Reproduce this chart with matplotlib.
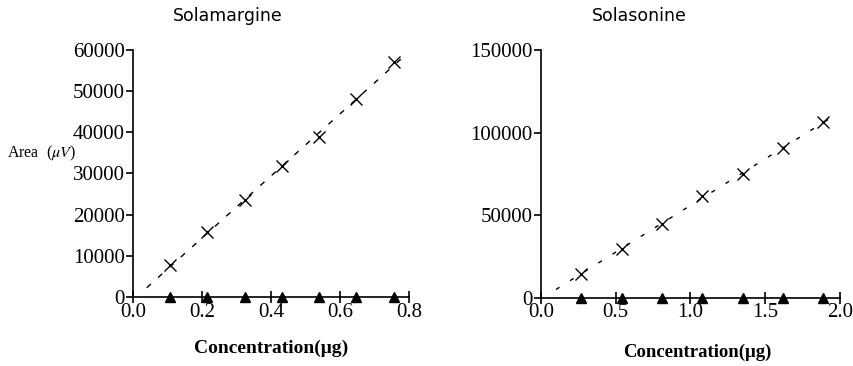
import numpy as np
import matplotlib.pyplot as plt

plt.rcParams['mathtext.fontset'] = 'stix'

# Solamargine standard curve
sm_conc = [0.108, 0.216, 0.324, 0.432, 0.540, 0.648, 0.756]
sm_area = [7700, 15700, 23500, 31800, 38800, 48000, 57000]

# Solasonine standard curve
ss_conc = [0.27, 0.54, 0.81, 1.08, 1.35, 1.62, 1.89]
ss_area = [14700, 29900, 44600, 61800, 75300, 90900, 106200]

# second series sits on the baseline
sm_base = [0, 0, 0, 0, 0, 0, 0]
ss_base = [0, 0, 0, 0, 0, 0, 0]

serif = 'Liberation Serif'

fig = plt.figure(figsize=(8.54, 3.66), dpi=100)
ax1 = fig.add_axes([0.1557, 0.1885, 0.323, 0.675])
ax2 = fig.add_axes([0.6335, 0.186, 0.350, 0.677])


def draw(ax, conc, area, base, fit_range, xmax, ymax, xstep, ystep, dashes):
    # regression line through the standards
    k, b = np.polyfit(conc, area, 1)
    xf = np.array(fit_range)
    ax.plot(xf, k * xf + b, color='black', lw=1.0, dashes=dashes)
    ax.plot(conc, area, 'x', color='black', ms=8, mew=1.0, clip_on=False)
    ax.plot(conc, base, '^', color='black', ms=7, clip_on=False)

    ax.set_xlim(0, xmax)
    ax.set_ylim(0, ymax)
    ax.set_xticks(np.arange(0, xmax + xstep / 2, xstep))
    ax.set_yticks(np.arange(0, ymax + ystep / 2, ystep))
    ax.xaxis.set_major_formatter(plt.FormatStrFormatter('%.1f'))
    ax.yaxis.set_major_formatter(plt.FormatStrFormatter('%d'))
    for s in ['top', 'right']:
        ax.spines[s].set_visible(False)
    for s in ['left', 'bottom']:
        ax.spines[s].set_linewidth(1.2)
    ax.tick_params(axis='y', direction='out', length=5, width=1.2, pad=1)
    ax.tick_params(axis='x', direction='inout', length=8, width=1.2, pad=0)
    for lab in ax.get_xticklabels() + ax.get_yticklabels():
        lab.set_fontfamily(serif)
        lab.set_fontsize(15)


draw(ax1, sm_conc, sm_area, sm_base, [0.04, 0.79], 0.8, 60000, 0.2, 10000, (4, 7))
draw(ax2, ss_conc, ss_area, ss_base, [0.1, 1.93], 2.0, 150000, 0.5, 50000, (3, 9))

fig.text(0.267, 0.955, 'Solamargine', ha='center', va='center',
         fontsize=12.5, family='DejaVu Sans')
fig.text(0.749, 0.955, 'Solasonine', ha='center', va='center',
         fontsize=12.5, family='DejaVu Sans')

fig.text(0.008, 0.582, r'Area  ($\mu V$)', ha='left', va='center',
         fontsize=11.5, family=serif)

fig.text(0.318, 0.049, 'Concentration(\u03bcg)', ha='center', va='center',
         fontsize=14, family=serif, fontweight='bold')
fig.text(0.817, 0.038, 'Concentration(\u03bcg)', ha='center', va='center',
         fontsize=13.5, family=serif, fontweight='bold')

fig.savefig('out.png', dpi=100)
